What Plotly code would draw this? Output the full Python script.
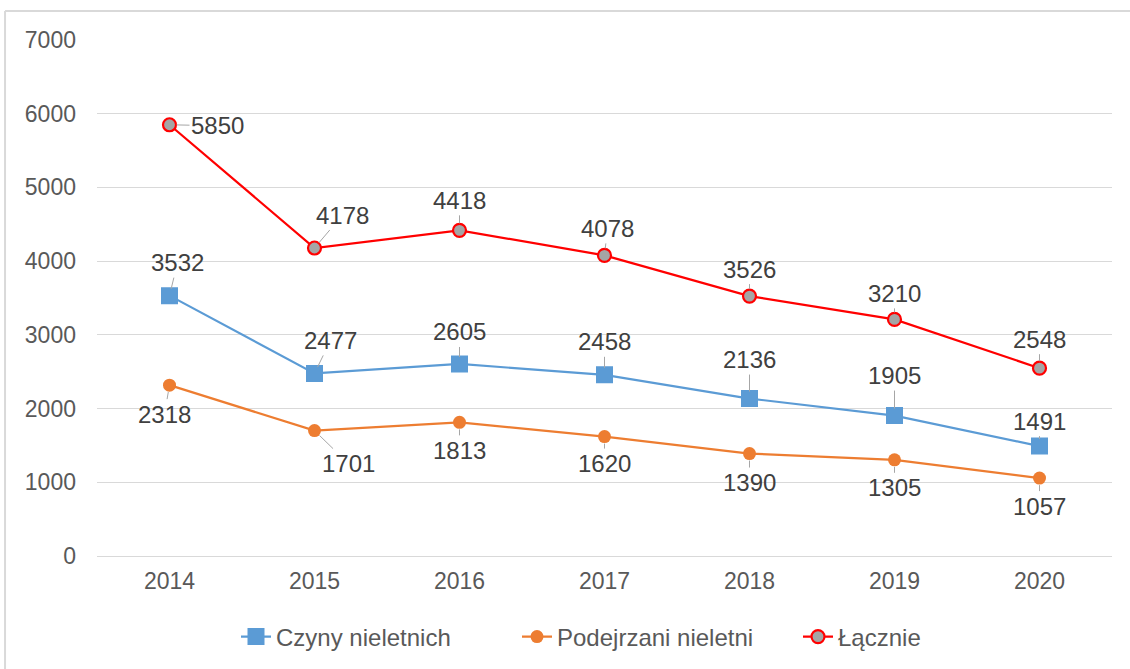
import plotly.graph_objects as go

years = ["2014", "2015", "2016", "2017", "2018", "2019", "2020"]
czyny = [3532, 2477, 2605, 2458, 2136, 1905, 1491]
podejrzani = [2318, 1701, 1813, 1620, 1390, 1305, 1057]
lacznie = [5850, 4178, 4418, 4078, 3526, 3210, 2548]

# label offsets (pixels) for each series
czyny_off = [(8, -33), (16, -33), (0, -32), (0, -33), (0, -39), (0, -40), (0, -25)]
podej_off = [(-5, 29), (34, 33), (0, 28), (0, 27), (0, 29), (0, 28), (0, 28)]
lacz_off = [(48, 1), (28, -33), (0, -30), (3, -27), (0, -27), (0, -26), (0, -29)]

FONT = "Liberation Sans, Arial"

fig = go.Figure()
fig.add_trace(go.Scatter(
    x=years, y=czyny, name="Czyny nieletnich", mode="lines+markers",
    line=dict(color="#5b9bd5", width=2.2),
    marker=dict(symbol="square", size=15, color="#5b9bd5", line=dict(color="#5b9bd5", width=2))))
fig.add_trace(go.Scatter(
    x=years, y=podejrzani, name="Podejrzani nieletni", mode="lines+markers",
    line=dict(color="#ed7d31", width=2.2),
    marker=dict(symbol="circle", size=13, color="#ed7d31")))
fig.add_trace(go.Scatter(
    x=years, y=lacznie, name="Łącznie", mode="lines+markers",
    line=dict(color="#ff0000", width=2.2),
    marker=dict(symbol="circle", size=13, color="#a5a5a5", line=dict(color="#ff0000", width=2.2))))

annots = []
for ys, offs in ((czyny, czyny_off), (podejrzani, podej_off), (lacznie, lacz_off)):
    for i, (y, (ax, ay)) in enumerate(zip(ys, offs)):
        annots.append(dict(
            x=i, y=y, xref="x", yref="y", text=str(y),
            showarrow=True, arrowhead=0, arrowwidth=1, arrowcolor="#a6a6a6",
            standoff=7, ax=ax, ay=ay,
            font=dict(family=FONT, size=24, color="#404040")))

fig.update_layout(
    width=1130, height=669,
    paper_bgcolor="white", plot_bgcolor="white",
    margin=dict(l=97, r=18, t=40, b=113, autoexpand=False),
    font=dict(family=FONT, color="#595959"),
    annotations=annots,
    legend=dict(orientation="h", x=(236 - 97) / 1015, xanchor="left", y=-0.157, yanchor="middle",
                entrywidth=236, entrywidthmode="pixels",
                font=dict(size=24, color="#595959"), tracegroupgap=0),
    shapes=[
        dict(type="line", xref="paper", yref="paper", x0=-0.0906, x1=1.1, y0=1.0562, y1=1.0562,
             line=dict(color="#d9d9d9", width=2)),
        dict(type="line", xref="paper", yref="paper", x0=-0.0906, x1=-0.0906, y0=1.0562, y1=-0.3,
             line=dict(color="#d9d9d9", width=2)),
    ],
)
fig.update_xaxes(type="category", range=[-0.5, 6.5], showgrid=False, showline=False, ticks="",
                 automargin=False,
                 tickfont=dict(size=23, color="#595959"), ticklabelstandoff=9)
fig.update_yaxes(range=[0, 7000], dtick=1000, showgrid=True, gridcolor="#d9d9d9", gridwidth=1,
                 zeroline=True, zerolinecolor="#d9d9d9", zerolinewidth=1, showline=False,
                 automargin=False,
                 ticks="", tickfont=dict(size=23, color="#595959"), ticklabelstandoff=20)

fig.write_html("out.html", config={"displayModeBar": False},
               post_script="document.body.style.margin='0';")
